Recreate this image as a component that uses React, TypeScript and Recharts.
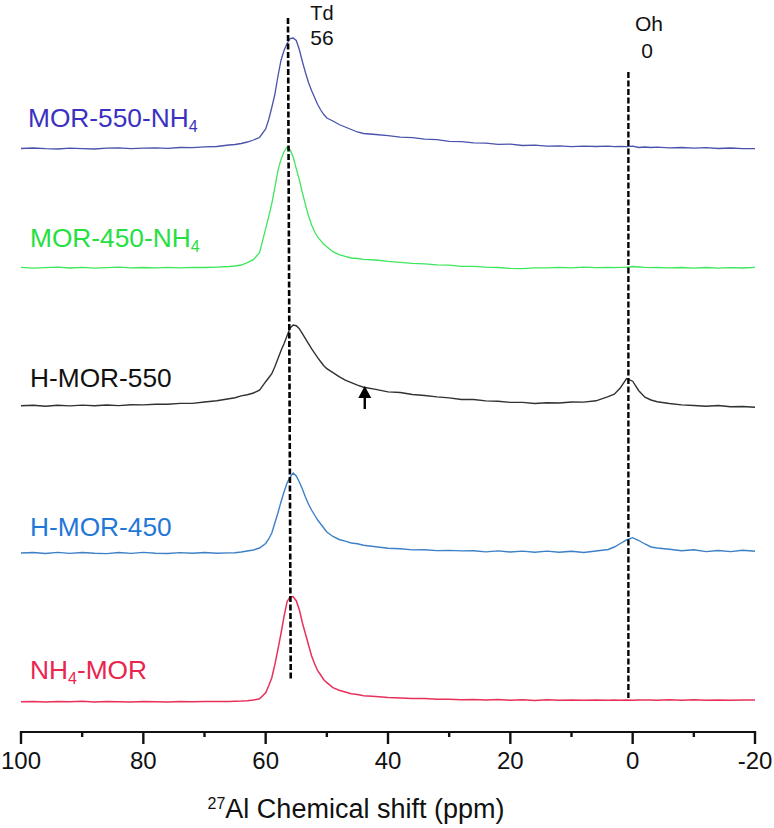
import React from 'react';
import { LineChart, Line, XAxis, YAxis, ReferenceLine, ReferenceDot } from 'recharts';

// ppm grid, denser over the peaks
const ppm = [
  100, 98, 96, 94, 92, 90, 88, 86, 84, 82, 80, 78, 76, 74, 72, 70, 68, 66,
  65, 64, 63, 62, 61,
  60, 59.5, 59, 58.5, 58, 57.5, 57, 56.5, 56, 55.5, 55, 54.5, 54, 53.5, 53, 52.5, 52, 51.5, 51, 50.5, 50,
  49, 48, 47, 46, 45, 44,
  42, 40, 38, 36, 34, 32, 30, 28, 26, 24, 22, 20, 18, 16, 14, 12, 10, 8, 6,
  4, 3, 2, 1, 0, -1, -2, -3, -4,
  -6, -8, -10, -12, -14, -16, -18, -20,
];

const mor550nh4 = [
  0, 0.5, -0.2, -0.5, 0.4, -0.1, -0.5, 0.3, 0.6, -0.2, 0.3, 0.7, 0.2, 1, 0.8, 1.6, 2, 3.5,
  4, 5, 6.5, 8.5, 11,
  19.5, 29, 41, 54, 72, 88, 98, 105, 110, 110.5, 108, 99, 87, 76, 66, 58, 51, 44, 38.5, 34, 30.5,
  27.5, 24, 21.5, 19, 16.5, 15,
  14, 12.8, 11.3, 10.8, 9.3, 8.8, 7.2, 6.8, 5.7, 5.3, 4.2, 4.3, 3, 3.3, 2.3, 2.7, 1.9, 2.4, 2,
  2.4, 1.9, 2.1, 1.9, 2.4, 1, 1.5, 1, 1.3,
  0.7, 1, 0.3, 0.8, 0, 0.5, -0.2, -0.2,
];

const mor450nh4 = [
  0.4, -0.4, 0.1, 0.5, -0.3, 0.3, -0.4, 0, 0.5, -0.2, 0.2, -0.1, 0.3, -0.2, 0.4, 0.2, 0.6, 1.2,
  1.7, 2.7, 5, 8, 15,
  39, 51, 64, 80, 97, 108, 116, 120.5, 118, 110.7, 99, 88, 75, 63, 52, 43, 36, 30.7, 27, 23.5, 21,
  16, 13, 11.3, 9.7, 9.2, 8.3,
  7.7, 6.3, 5.4, 4.3, 3.8, 2.8, 2.5, 1.3, 1.4, 0.6, 0.2, -0.7, -1, -0.1, -0.2, 0.4, -0.2, 0.5, 0,
  0.3, 0.1, 0.4, 0.3, 1.2, 0.7, 0.3, 0.1, 0.2,
  -0.1, 0.2, -0.4, 0.2, -0.5, 0, -0.3, 0.3,
];

const hMor550 = [
  0, 0.5, -0.5, 0.4, -0.2, 0.6, -0.1, 0.7, 0.1, 1, 0.8, 1.5, 1.5, 2.3, 2.3, 3.7, 5, 7,
  8, 9.8, 11, 12.7, 15.5,
  24, 28, 32, 39, 47, 55, 62, 70, 77.7, 80.7, 80, 77, 72, 67, 62, 57, 52.5, 48, 44, 40, 37,
  33, 29, 25.5, 23, 20.5, 18.5,
  16.3, 13.8, 13.2, 11.2, 10.2, 8.8, 7.8, 6.2, 6.2, 4.8, 4.5, 3.3, 3.3, 2.2, 2.9, 2.7, 3.7, 3.6, 4.9,
  9, 11.5, 18, 27, 24.5, 15, 8.5, 5.7, 4,
  2.2, 0.8, 0.2, -0.5, 0.2, -1, -0.8, -1.6,
];

const hMor450 = [
  0, 0.5, -0.5, 0.6, -0.4, 0.5, -0.2, -0.6, 0.5, -0.4, 0.6, -0.2, -0.5, 0.4, -0.3, 0.5, -0.2, 0.1,
  0.3, 1, 2, 3, 5,
  9.5, 14, 20, 30, 40, 51, 61, 70, 76, 80, 77, 71, 64, 56, 49, 43, 38, 33, 29, 25, 21,
  16.5, 13.5, 11.8, 10, 9.2, 7.8,
  6.3, 4.7, 4.3, 3.1, 3.3, 2.4, 2.6, 2.1, 2.3, 1.1, 2.1, 1, 1.9, 0.8, 1.9, 0.7, 1.8, 0.5, 2,
  3.5, 6, 9.5, 13, 15.3, 12.5, 9, 6, 5,
  3.8, 2.2, 3.3, 1.4, 2.5, 1.4, 2.7, 1.7,
];

const nh4Mor = [
  0, 0.3, -0.2, 0.2, -0.1, 0.4, -0.2, 0.2, -0.1, -0.3, 0.2, -0.1, -0.2, 0.2, -0.1, 0.1, 0.2, 0.3,
  0.4, 0.6, 1, 1.6, 3,
  9, 16, 24, 37, 52, 68, 85, 100, 105, 105, 101, 92, 79, 68, 57, 46, 38, 31, 26.7, 22, 19,
  14, 11.5, 9.7, 8, 7.2, 6,
  5.2, 4.1, 3.7, 3.1, 3.2, 2.4, 2.4, 2, 2.2, 1.6, 2.2, 1.4, 1.9, 1.2, 1.9, 1.4, 1.7, 1.5, 1.8,
  1.5, 1.8, 1.5, 1.8, 1.5, 1.8, 1.6, 1.8, 1.5,
  1.9, 1.4, 2, 1.5, 1.8, 1.4, 1.7, 1.7,
];

// vertical stacking of the spectra
const offsets = { mor550nh4: 583.5, mor450nh4: 464.3, hMor550: 326.3, hMor450: 179, nh4Mor: 30.3 };

const xTicks = [100, 90, 80, 70, 60, 50, 40, 30, 20, 10, 0, -10, -20];
const xLabelled = [100, 80, 60, 40, 20, 0, -20];

const data = ppm.map((p, i) => ({
  ppm: p,
  mor550nh4: mor550nh4[i] + offsets.mor550nh4,
  mor450nh4: mor450nh4[i] + offsets.mor450nh4,
  hMor550: hMor550[i] + offsets.hMor550,
  hMor450: hMor450[i] + offsets.hMor450,
  nh4Mor: nh4Mor[i] + offsets.nh4Mor,
}));

const font = '"Liberation Sans", Arial, sans-serif';

const AxisTick = ({ x, y, payload }: any) => {
  const major = xLabelled.includes(payload.value);
  return (
    <g>
      <line x1={x} x2={x} y1={y - 1} y2={y + (major ? 12 : 5)} stroke="#111" strokeWidth={2.4} />
      {major && (
        <text x={x} y={y + 37} textAnchor="middle" fontSize={24} fontFamily={font} fill="#111">
          {payload.value}
        </text>
      )}
    </g>
  );
};

const ArrowHead = ({ cx, cy }: any) => (
  <path d={`M${cx} ${cy - 6} L${cx + 6.5} ${cy + 6} L${cx - 6.5} ${cy + 6} Z`} fill="#000" />
);

const Label = ({ x, y, fill, pre, sub, post }: any) => (
  <text x={x} y={y} fontSize={26.3} fontFamily={font} fill={fill}>
    {pre}
    {sub && <tspan dy={5} fontSize={16}>{sub}</tspan>}
    {post && <tspan dy={sub ? -5 : 0}>{post}</tspan>}
  </text>
);

export default function App() {
  return (
    <div style={{ position: 'absolute', left: 0, top: 0, width: 774, height: 828, background: '#fff' }}>
      <LineChart width={774} height={828} data={data} margin={{ top: 0, right: 19, bottom: 0, left: 21 }}>
        <XAxis
          dataKey="ppm"
          type="number"
          domain={[-20, 100]}
          reversed
          ticks={xTicks}
          interval={0}
          tickLine={false}
          tickSize={0}
          tickMargin={0}
          height={96}
          axisLine={{ stroke: '#111', strokeWidth: 2.2 }}
          tick={<AxisTick />}
        />
        <YAxis hide domain={[0, 732]} />

        <Line dataKey="mor550nh4" stroke="#4a52ac" strokeWidth={1.3} dot={false} isAnimationActive={false} />
        <Line dataKey="mor450nh4" stroke="#3ee65c" strokeWidth={1.3} dot={false} isAnimationActive={false} />
        <Line dataKey="hMor550" stroke="#2e3232" strokeWidth={1.4} dot={false} isAnimationActive={false} />
        <Line dataKey="hMor450" stroke="#3d80c6" strokeWidth={1.4} dot={false} isAnimationActive={false} />
        <Line dataKey="nh4Mor" stroke="#e8305a" strokeWidth={1.5} dot={false} isAnimationActive={false} />

        {/* Td and Oh guides */}
        <ReferenceLine
          segment={[{ x: 56.35, y: 714 }, { x: 55.9, y: 53 }]}
          stroke="#000"
          strokeWidth={2.6}
          strokeDasharray="6 2.5"
        />
        <ReferenceLine
          segment={[{ x: 0.7, y: 660 }, { x: 0.7, y: 34 }]}
          stroke="#000"
          strokeWidth={2.4}
          strokeDasharray="6 2.5"
        />

        {/* arrow at the shoulder */}
        <ReferenceLine segment={[{ x: 43.8, y: 334 }, { x: 43.8, y: 323 }]} stroke="#000" strokeWidth={2.4} />
        <ReferenceDot x={43.8} y={340} r={6} shape={<ArrowHead />} />

        <Label x={28} y={127} fill="#3b30bf" pre="MOR-550-NH" sub="4" />
        <Label x={30} y={247} fill="#25e040" pre="MOR-450-NH" sub="4" />
        <Label x={30} y={387} fill="#111" pre="H-MOR-550" />
        <Label x={30} y={536} fill="#1f78d8" pre="H-MOR-450" />
        <Label x={30} y={679} fill="#e8264f" pre="NH" sub="4" post="-MOR" />

        <text x={322} y={20} textAnchor="middle" fontSize={20} fontFamily={font} fill="#111">Td</text>
        <text x={322} y={45} textAnchor="middle" fontSize={21} fontFamily={font} fill="#111">56</text>
        <text x={649} y={31} textAnchor="middle" fontSize={21} fontFamily={font} fill="#111">Oh</text>
        <text x={647} y={58} textAnchor="middle" fontSize={21} fontFamily={font} fill="#111">0</text>

        <text x={356} y={818} textAnchor="middle" fontSize={27} fontFamily={font} fill="#111">
          <tspan fontSize={16} dy={-9}>27</tspan>
          <tspan dy={9}>Al Chemical shift (ppm)</tspan>
        </text>
      </LineChart>
    </div>
  );
}
